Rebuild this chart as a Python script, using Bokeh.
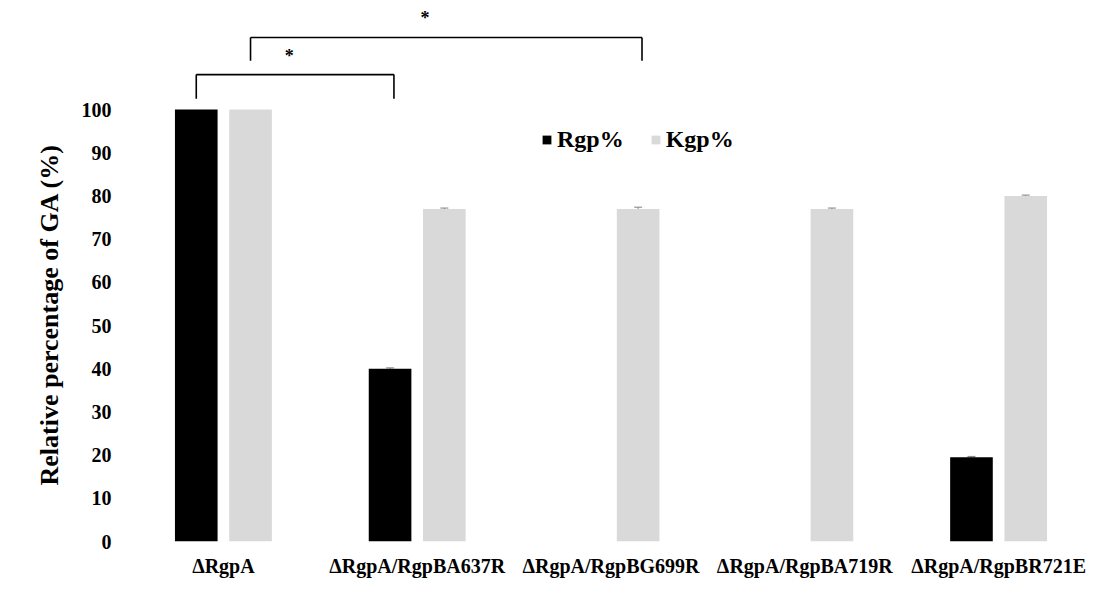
from bokeh.plotting import figure
from bokeh.models import (Range1d, FixedTicker, ColumnDataSource, Whisker,
                          Legend, LegendItem, Title)
from bokeh.core.properties import value
from bokeh.embed import file_html
from bokeh.resources import INLINE

categories = ["ΔRgpA", "ΔRgpA/RgpBA637R", "ΔRgpA/RgpBG699R",
              "ΔRgpA/RgpBA719R", "ΔRgpA/RgpBR721E"]
rgp = [100, 40, 0, 0, 19.5]
kgp = [100, 77, 77, 77, 80]
rgp_err = [0.0, 0.2, 0.0, 0.0, 0.2]
kgp_err = [0.0, 0.2, 0.4, 0.2, 0.2]
y_ticks = [0, 10, 20, 30, 40, 50, 60, 70, 80, 90, 100]
# significance brackets: (group of left bar, series), (group of right bar, series)
brackets = [((0, "rgp"), (1, "rgp")), ((0, "kgp"), (2, "kgp"))]
bracket_labels = ["*", "*"]
y_title = "Relative percentage of GA (%)"

FONT = "Liberation Serif"
OFF = 0.14
W = 0.22

centers = [i + 0.5 for i in range(len(categories))]
xr = [c - OFF for c in centers]
xk = [c + OFF for c in centers]

p = figure(width=1097, height=588, output_backend="svg", toolbar_location=None,
           x_range=Range1d(0, 5), y_range=Range1d(0, 123.4),
           min_border_left=126, min_border_right=2, min_border_top=8,
           min_border_bottom=47)
p.outline_line_color = None
p.grid.visible = False

src = ColumnDataSource(dict(xr=xr, xk=xk, rgp=rgp, kgp=kgp))
r1 = p.vbar(x="xr", top="rgp", width=W, source=src, fill_color="black",
            line_color=None)
r2 = p.vbar(x="xk", top="kgp", width=W, source=src, fill_color="#d9d9d9",
            line_color=None)

for xs, vals, errs in ((xr, rgp, rgp_err), (xk, kgp, kgp_err)):
    idx = [i for i, e in enumerate(errs) if e > 0]
    es = ColumnDataSource(dict(x=[xs[i] for i in idx],
                               lo=[vals[i] - errs[i] for i in idx],
                               up=[vals[i] + errs[i] for i in idx]))
    w = Whisker(base="x", lower="lo", upper="up", source=es,
                line_color="#808080", line_width=1)
    w.upper_head.size = 8
    w.lower_head.size = 8
    w.upper_head.line_color = "#808080"
    w.lower_head.line_color = "#808080"
    p.add_layout(w)

# brackets
pos = {"rgp": xr, "kgp": xk}
tops = [108.1, 116.7]
drops = [5.6, 5.4]
sx0, sx1, sy0, sy1 = [], [], [], []
star_x, star_y = [], []
for (a, b), t, d in zip(brackets, tops, drops):
    x0 = pos[a[1]][a[0]]
    x1 = pos[b[1]][b[0]] + 0.02
    sx0 += [x0, x0, x1]
    sx1 += [x1, x0, x1]
    sy0 += [t, t, t]
    sy1 += [t, t - d, t - d]
    star_x.append((x0 + x1) / 2 - 0.03 if x1 - x0 < 1.5 else (x0 + x1) / 2 - 0.11)
    star_y.append(t + 4.4)
p.segment(x0=sx0, y0=sy0, x1=sx1, y1=sy1, line_color="black", line_width=1.6)
p.text(x=star_x, y=star_y, text=bracket_labels, text_font=value(FONT),
       text_font_style="bold", text_font_size="18px", text_align="center",
       text_baseline="middle", text_color="black")

# axes
p.yaxis.ticker = FixedTicker(ticks=y_ticks)
p.yaxis.axis_line_color = None
p.yaxis.major_tick_line_color = None
p.yaxis.minor_tick_line_color = None
p.yaxis.major_label_text_font = FONT
p.yaxis.major_label_text_font_style = "bold"
p.yaxis.major_label_text_font_size = "20px"
p.yaxis.major_label_standoff = 9
p.yaxis.major_label_text_color = "black"

p.add_layout(Title(text=y_title, align="left", offset=56, standoff=30,
                   text_font=FONT, text_font_style="bold",
                   text_font_size="26px", text_color="black"), "left")

p.xaxis.ticker = FixedTicker(ticks=centers)
p.xaxis.major_label_overrides = {c: n for c, n in zip(centers, categories)}
p.xaxis.axis_line_color = None
p.xaxis.major_tick_line_color = None
p.xaxis.minor_tick_line_color = None
p.xaxis.major_label_text_font = FONT
p.xaxis.major_label_text_font_style = "bold"
p.xaxis.major_label_text_font_size = "20px"
p.xaxis.major_label_text_color = "black"
p.xaxis.major_label_standoff = 7

legend = Legend(items=[LegendItem(label="Rgp%", renderers=[r1]),
                       LegendItem(label="Kgp%", renderers=[r2])],
                orientation="horizontal", location=(415, 388),
                glyph_width=11, glyph_height=11, label_standoff=5,
                spacing=26, padding=0, margin=0,
                border_line_color=None, background_fill_alpha=0,
                label_text_font=FONT, label_text_font_style="bold",
                label_text_font_size="24px", label_text_color="black")
p.add_layout(legend)

open("out.html", "w").write(file_html(p, INLINE))
